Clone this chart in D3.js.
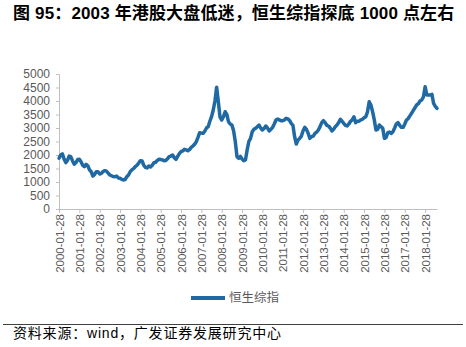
<!DOCTYPE html>
<html><head><meta charset="utf-8">
<script src="https://cdn.jsdelivr.net/npm/d3@7"></script>
<style>body{margin:0;background:#fff}svg{display:block}</style>
</head><body><svg id="c" width="466" height="347"></svg>
<script>
const titleText = "图 95：2003 年港股大盘低迷，恒生综指探底 1000 点左右";
const seriesName = "恒生综指";
const sourceText = "资料来源：wind，广发证券发展研究中心";
const yTicks = [0,500,1000,1500,2000,2500,3000,3500,4000,4500,5000];
const tickYears = [2000,2001,2002,2003,2004,2005,2006,2007,2008,2009,2010,2011,2012,2013,2014,2015,2016,2017,2018];

// Monthly Hang Seng Composite values, Jan..Dec
const v2000 = [1880,2000,2040,1850,1720,1800,1960,1930,1780,1660,1720,1830];
const v2001 = [1840,1750,1620,1570,1650,1600,1450,1380,1220,1280,1380,1380];
const v2002 = [1296,1320,1390,1420,1400,1330,1260,1230,1200,1197,1220,1150];
const v2003 = [1136,1100,1074,1090,1197,1260,1382,1450,1500,1567,1620,1700];
const v2004 = [1790,1780,1620,1543,1520,1593,1560,1620,1715,1730,1800,1840];
const v2005 = [1830,1820,1790,1800,1860,1938,1960,2000,1900,1840,1950,2050];
const v2006 = [2123,2150,2210,2190,2160,2200,2280,2333,2400,2493,2650,2826];
const v2007 = [2810,2803,2880,3000,3048,3250,3418,3667,4000,4507,3974,3400];
const v2008 = [3296,3418,3604,3500,3233,3150,3111,2900,2500,1938,1876,1950];
const v2009 = [1850,1790,1815,2185,2500,2617,2863,2950,2987,3050,3111,3000];
const v2010 = [2926,2980,3074,3000,2889,2950,3024,3150,3296,3330,3300,3270];
const v2011 = [3270,3300,3358,3340,3280,3173,3100,2679,2407,2550,2617,2700];
const v2012 = [2900,3024,2950,2800,2617,2679,2700,2800,2850,2926,3050,3200];
const v2013 = [3270,3200,3100,3074,3000,2889,2950,3050,3111,3200,3321,3250];
const v2014 = [3173,3100,3074,3150,3250,3300,3418,3198,3250,3250,3300,3321];
const v2015 = [3380,3420,3600,3974,3850,3604,3300,2926,2950,3111,3050,2987];
const v2016 = [2617,2650,2826,2850,2800,2863,3000,3148,3200,3100,3024,3024];
const v2017 = [3150,3296,3350,3450,3545,3650,3750,3852,3900,4000,4037,4150];
const v2018 = [4530,4222,4222,4222,4250,3913,3800,3728];

const values = [].concat(v2000,v2001,v2002,v2003,v2004,v2005,v2006,v2007,v2008,v2009,
  v2010,v2011,v2012,v2013,v2014,v2015,v2016,v2017,v2018);
const dates = values.map((_, i) => {
  const yr = 2000 + Math.floor(i / 12), mo = (i % 12) + 1;
  return yr + "-" + String(mo).padStart(2, "0") + "-28";
});
const data = values.map((v, i) => ({date: dates[i], v}));

const svg = d3.select("#c");
const color = "#1f69a4";
const gray = "#595959";

svg.append("text").attr("x", 13).attr("y", 19)
  .attr("font-family", "'Liberation Sans','Noto Sans CJK SC',sans-serif")
  .attr("font-weight", "bold").attr("font-size", 17).attr("letter-spacing", 0.15).attr("fill", "#000")
  .text(titleText);

const x = d3.scalePoint().domain(dates).range([59, 437]);
const y = d3.scaleLinear().domain([0, 5000]).range([209, 74]);

const ya = svg.append("g").attr("transform", "translate(59,0)")
  .call(d3.axisLeft(y).tickValues(yTicks).tickFormat(d3.format("d"))
    .tickSize(3).tickSizeOuter(0).tickPadding(6));
ya.select(".domain").attr("stroke", "#bfbfbf");
ya.selectAll(".tick line").attr("stroke", "#bfbfbf");
ya.selectAll("text").attr("fill", gray).attr("font-size", 12)
  .attr("font-family", "'Liberation Sans',Arial,sans-serif");

const xa = svg.append("g").attr("transform", "translate(0,209)")
  .call(d3.axisBottom(x).tickValues(tickYears.map(yv => yv + "-01-28"))
    .tickSize(4).tickSizeOuter(0));
xa.select(".domain").attr("stroke", "#bfbfbf");
xa.selectAll(".tick line").attr("stroke", "#bfbfbf");
xa.selectAll("text").attr("fill", gray).attr("font-size", 11.5)
  .attr("font-family", "'Liberation Sans',Arial,sans-serif")
  .attr("transform", "rotate(-90)").attr("x", -5).attr("y", 0).attr("dy", "0.35em")
  .style("text-anchor", "end");

const line = d3.line().x(d => x(d.date)).y(d => y(d.v));
svg.append("path").datum(data).attr("d", line)
  .attr("fill", "none").attr("stroke", color).attr("stroke-width", 3.5)
  .attr("stroke-linejoin", "round").attr("stroke-linecap", "round");

// legend
svg.append("line").attr("x1", 191).attr("x2", 225).attr("y1", 298).attr("y2", 298)
  .attr("stroke", color).attr("stroke-width", 4);
svg.append("text").attr("x", 229).attr("y", 298).attr("dy", "0.35em")
  .attr("font-family", "'Noto Sans CJK SC',sans-serif").attr("font-size", 12.5)
  .attr("fill", gray).text(seriesName);

// source
svg.append("line").attr("x1", 3).attr("x2", 463).attr("y1", 324.5).attr("y2", 324.5)
  .attr("stroke", "#404040").attr("stroke-width", 1);
svg.append("text").attr("x", 13).attr("y", 338)
  .attr("font-family", "'Liberation Sans','Noto Sans CJK SC',sans-serif").attr("font-size", 14)
  .attr("letter-spacing", 0.8).attr("fill", "#000").text(sourceText);
</script></body></html>
